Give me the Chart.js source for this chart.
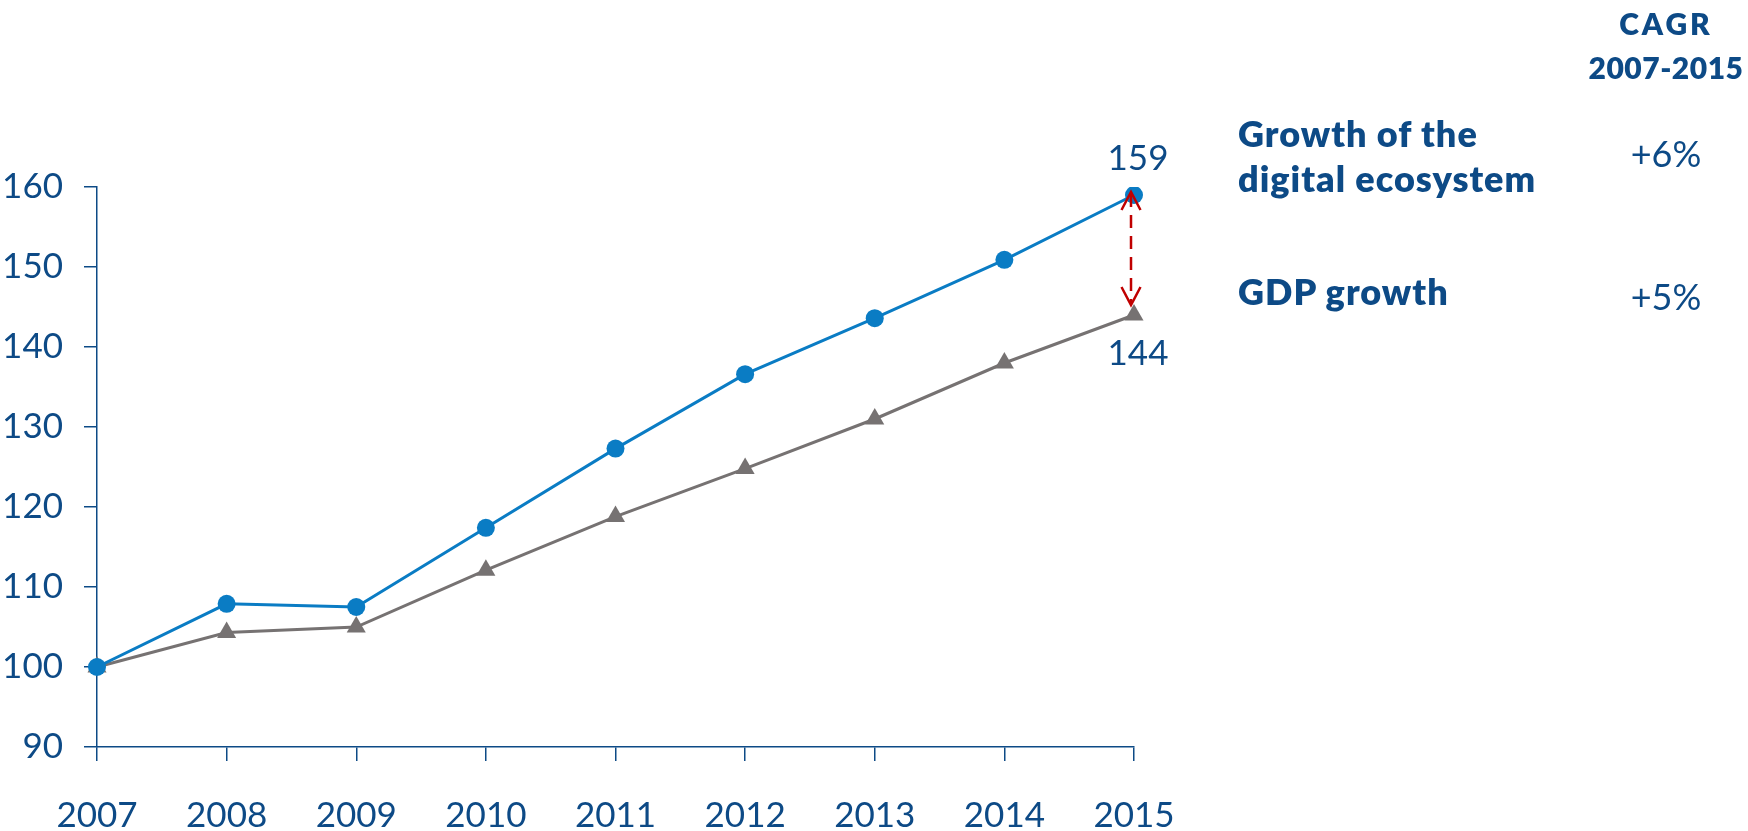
<!DOCTYPE html>
<html>
<head>
<meta charset="utf-8">
<script src="https://cdn.jsdelivr.net/npm/chart.js@4"></script>
<style>
  body { margin: 0; background: #fff; }
  #wrap { position: relative; width: 1748px; height: 831px; }
  .side { position: absolute; color: #0d4a86; font-family: 'Gill Sans', 'Gill Sans MT', Lato, sans-serif; white-space: nowrap; }
  .head { left: 1556px; top: 4px; width: 220px; text-align: center; font-weight: 800; line-height: 38px; }
  .head .l1 { font-size: 30px; letter-spacing: 3px; }
  .head .l2 { font-size: 30px; letter-spacing: 0.5px; }
  .name { left: 1238px; font-size: 36px; font-weight: 800; line-height: 45px; letter-spacing: 1px; }
  .rate { left: 1586px; width: 160px; text-align: center; font-size: 36px; line-height: 45px; }
</style>
</head>
<body>
<div id="wrap">
  <canvas id="growthChart" width="1748" height="831"></canvas>
  <div class="side head"><span class="l1">CAGR</span><br><span class="l2">2007-2015</span></div>
  <div class="side name" style="top:111px">Growth of the<br>digital ecosystem</div>
  <div class="side rate" style="top:131px">+6%</div>
  <div class="side name" style="top:269px">GDP growth</div>
  <div class="side rate" style="top:274px">+5%</div>
</div>
<script>
const years = ['2007','2008','2009','2010','2011','2012','2013','2014','2015'];
const digitalIndex = [100, 107.9, 107.5, 117.4, 127.3, 136.6, 143.6, 150.9, 159];
const gdpIndex = [100, 104.3, 105.0, 112.1, 118.8, 124.8, 131.0, 138.0, 144];
const yTicks = [90, 100, 110, 120, 130, 140, 150, 160];

const navy = '#0d4a86';
const blue = '#0a7cc4';
const grey = '#767272';
const red = '#c00000';
const font = "'Gill Sans', 'Gill Sans MT', Lato, sans-serif";

// end values plus the dashed double arrow between the two series in 2015
const endMarks = {
  id: 'endMarks',
  afterDatasetsDraw(chart) {
    const {ctx, scales: {x, y}} = chart;
    const last = years.length - 1;
    const px = x.getPixelForValue(last);
    const yTop = y.getPixelForValue(digitalIndex[last]);
    const yBot = y.getPixelForValue(gdpIndex[last]);
    const ax = px - 3;
    const t = yTop - 3, b = yBot - 10;

    ctx.save();
    ctx.strokeStyle = red;
    ctx.lineWidth = 2.5;
    ctx.setLineDash([13, 8]);
    ctx.beginPath();
    ctx.moveTo(ax, t + 2);
    ctx.lineTo(ax, b - 2);
    ctx.stroke();
    ctx.setLineDash([]);
    ctx.beginPath();
    ctx.moveTo(ax - 9.5, t + 18); ctx.lineTo(ax, t); ctx.lineTo(ax + 9.5, t + 18);
    ctx.moveTo(ax - 9.5, b - 18); ctx.lineTo(ax, b); ctx.lineTo(ax + 9.5, b - 18);
    ctx.stroke();

    ctx.fillStyle = navy;
    ctx.font = '35px ' + font;
    ctx.textAlign = 'center';
    ctx.textBaseline = 'alphabetic';
    ctx.fillText(String(digitalIndex[last]), px + 4, yTop - 25);
    ctx.fillText(String(gdpIndex[last]), px + 4, yBot + 50);
    ctx.restore();
  }
};

new Chart(document.getElementById('growthChart').getContext('2d'), {
  type: 'line',
  data: {
    labels: years,
    datasets: [{
      label: 'Growth of the digital ecosystem',
      data: digitalIndex,
      borderColor: blue,
      backgroundColor: blue,
      borderWidth: 3,
      pointStyle: 'circle',
      pointRadius: 9,
      pointBorderWidth: 0,
      tension: 0
    }, {
      label: 'GDP growth',
      data: gdpIndex,
      borderColor: grey,
      backgroundColor: grey,
      borderWidth: 3,
      pointStyle: 'triangle',
      pointRadius: 11,
      pointBorderWidth: 0,
      tension: 0
    }]
  },
  options: {
    responsive: false,
    animation: false,
    layout: { padding: { top: 187, right: 614, left: 0, bottom: 0 } },
    plugins: { legend: { display: false }, tooltip: { enabled: false } },
    scales: {
      x: {
        offset: false,
        afterFit: s => { s.height = 84; },
        border: { display: true, color: navy, width: 1.5 },
        grid: { drawOnChartArea: false, drawTicks: true, tickLength: 14, color: navy, lineWidth: 1.5 },
        ticks: { color: navy, font: { family: font, size: 35 }, padding: 34, maxRotation: 0 }
      },
      y: {
        min: 90,
        max: 160,
        afterFit: s => { s.width = 97; },
        afterBuildTicks: s => { s.ticks = yTicks.map(v => ({ value: v })); },
        border: { display: true, color: navy, width: 1.5 },
        grid: { drawOnChartArea: false, drawTicks: true, tickLength: 13, color: navy, lineWidth: 1.5 },
        ticks: { color: navy, font: { family: font, size: 35 }, padding: 21 }
      }
    }
  },
  plugins: [endMarks]
});
</script>
</body>
</html>
